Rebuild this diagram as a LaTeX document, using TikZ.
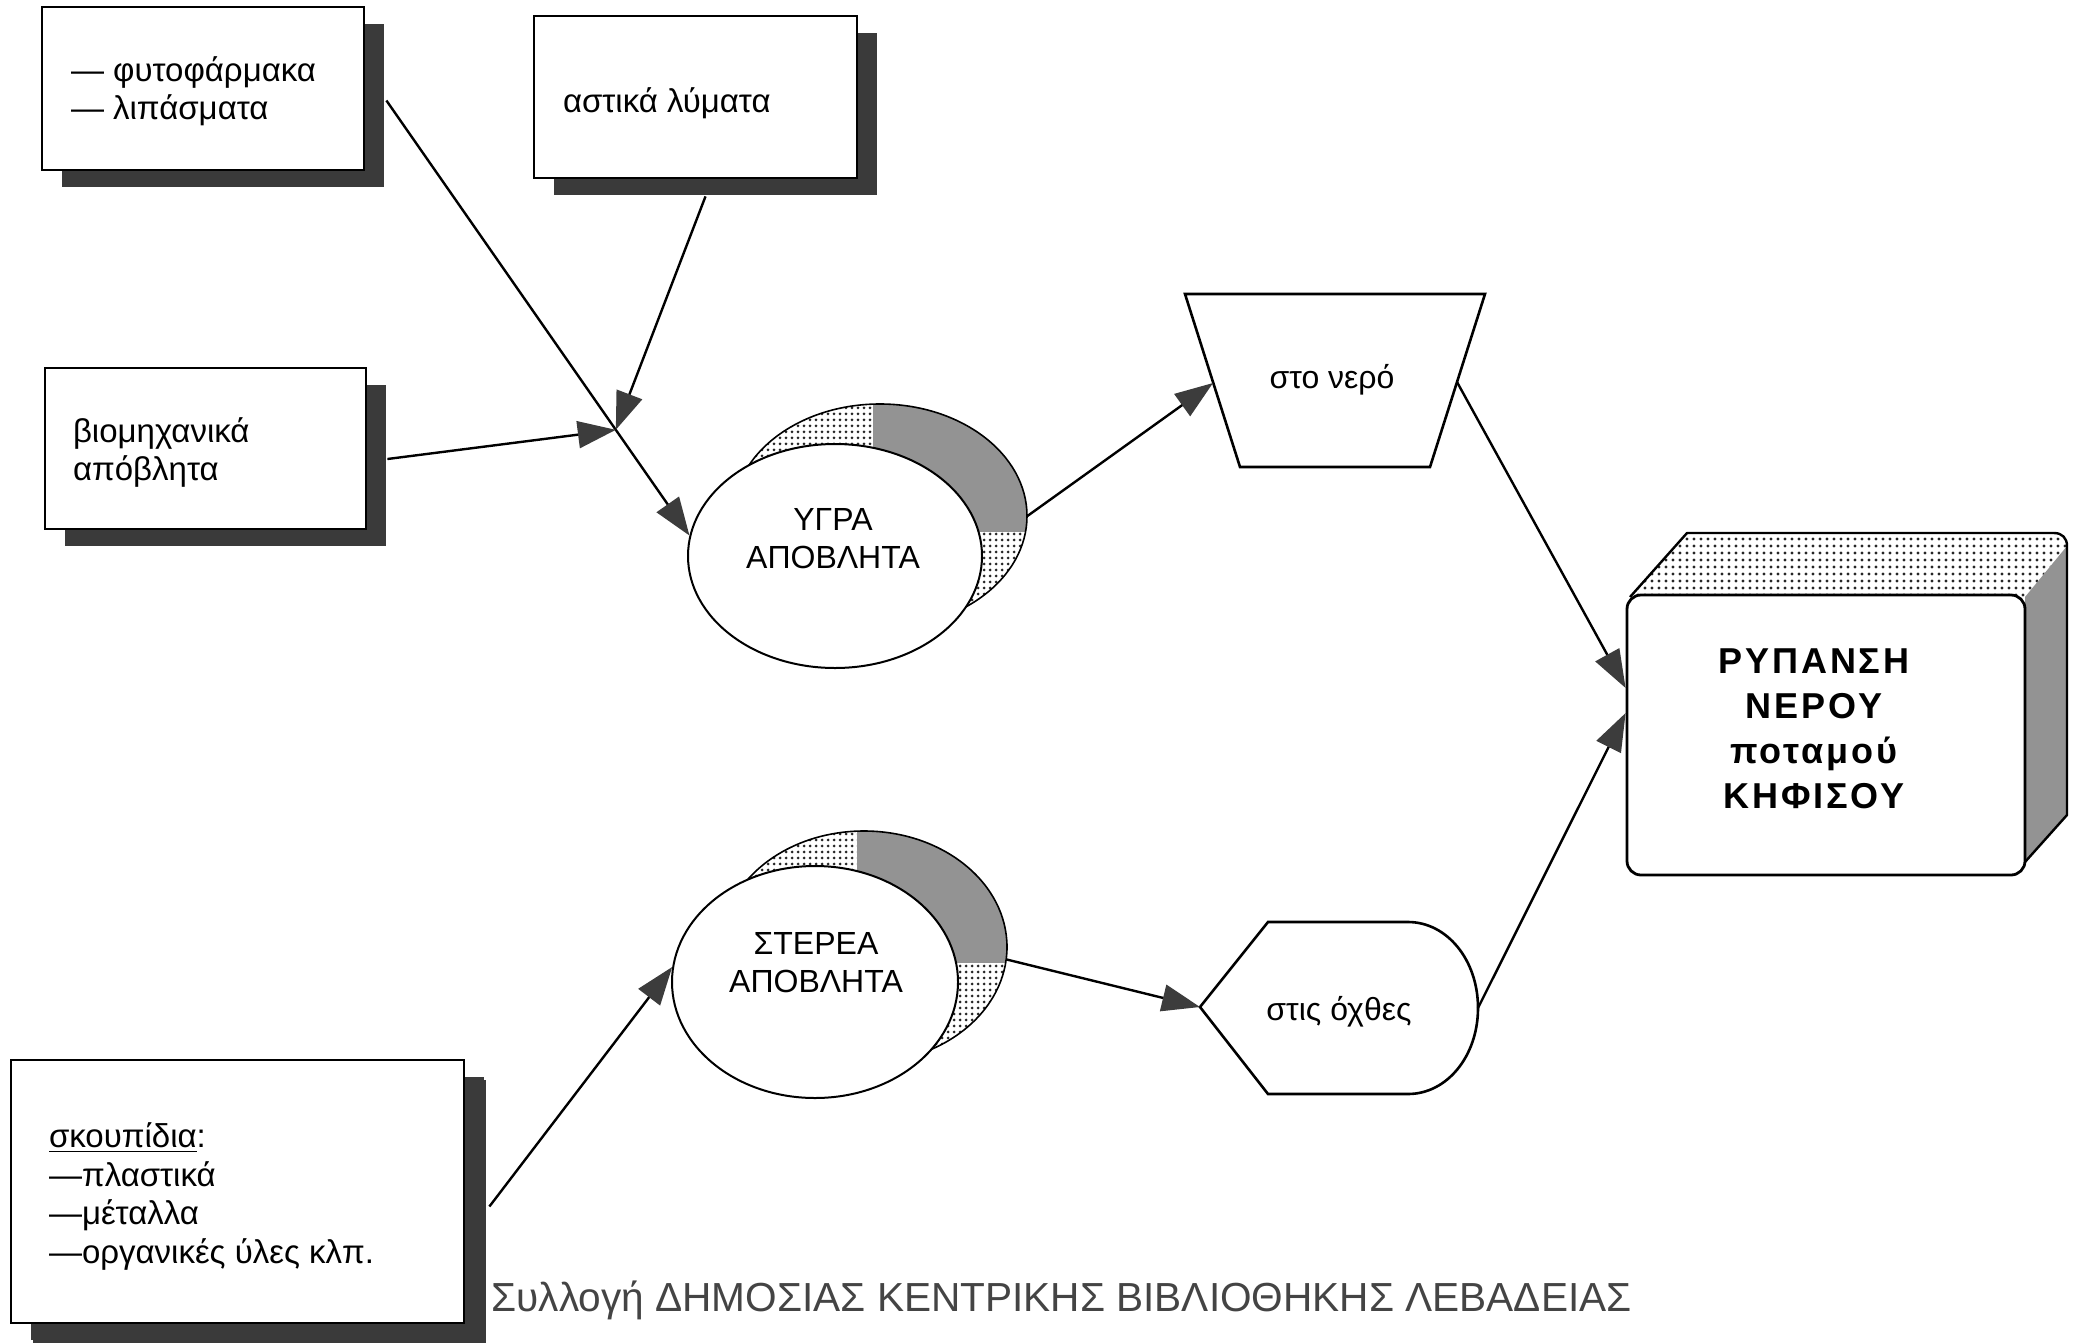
\documentclass[tikz,border=0pt]{standalone}
\usepackage{fontspec}
\setmainfont{Liberation Sans}
\newfontfamily\titlefont{Liberation Sans Bold}[LetterSpace=8]
\usetikzlibrary{arrows.meta,shadows,calc,shapes.geometric,patterns.meta}
\definecolor{shade}{HTML}{3A3A3A}
\definecolor{tipc}{HTML}{3C3C3C}
\definecolor{darkdot}{HTML}{939393}
\definecolor{footc}{HTML}{444444}
\begin{document}
\begin{tikzpicture}[x=0.5pt,y=-0.5pt,
  srcbox/.style={draw=black, line width=1.4pt, fill=white, inner sep=0pt,
    drop shadow={shadow xshift=10pt, shadow yshift=-8.5pt, fill=shade, opacity=1}},
  boxtext/.style={anchor=west, align=left, inner sep=0pt, font=\fontsize{16.5}{19.2}\selectfont},
  flow/.style={line width=1.2pt, -{Triangle[length=19pt,width=13.5pt,color=tipc]}},
  lbl/.style={font=\fontsize{16}{19}\selectfont, align=center, inner sep=0pt},
  frontell/.style={ellipse, draw=black, line width=1pt, fill=white, inner sep=0pt},
  backell/.style={ellipse, inner sep=0pt, fill=white},
  lightdots/.style={pattern={Dots[distance=3pt,radius=0.75pt]}, pattern color=black!85},
  shapeline/.style={draw=black, line width=1.3pt, fill=white, line join=miter}
]
\useasboundingbox (0,0) rectangle (2078,1344);

% source boxes
\node[srcbox, minimum width=161pt, minimum height=81.5pt] (b1) at (203,88.5) {};
\node[boxtext] (b1txt) at ($(b1.west)+(30,3)$) {— φυτοφάρμακα\\— λιπάσματα};
\node[srcbox, minimum width=161.5pt, minimum height=81pt] (b2) at (695.5,97) {};
\node[boxtext] (b2txt) at ($(b2.west)+(30,6)$) {αστικά λύματα};
\node[srcbox, minimum width=160.5pt, minimum height=80.5pt] (b3) at (205.5,448.5) {};
\node[boxtext] (b3txt) at ($(b3.west)+(29,4)$) {βιομηχανικά\\απόβλητα};
\node[srcbox, minimum width=226.5pt, minimum height=131.5pt,
  drop shadow={shadow xshift=11pt, shadow yshift=-10pt, fill=shade, opacity=1}] (b4) at (237.5,1191.5) {};
\node[boxtext] (b4txt) at ($(b4.west)+(39,5)$)
  {\underline{σκουπίδια}:\\—πλαστικά\\—μέταλλα\\—οργανικές ύλες κλπ.};

% YGRA ellipse
\node[backell, minimum width=147pt, minimum height=112pt] (ygraback) at (880,516) {};
\fill[lightdots] (ygraback.center) ellipse [x radius=147, y radius=112];
\begin{scope}
  \clip (ygraback.center) ellipse [x radius=147, y radius=112];
  \fill[darkdot] ($(ygraback.center)+(-7,-130)$) rectangle ($(ygraback.center)+(160,16)$);
\end{scope}
\draw[line width=0.8pt] (ygraback.center) ellipse [x radius=147, y radius=112];
\node[frontell, minimum width=147pt, minimum height=112pt] (ygra) at (835,556) {};
\node[lbl] (ygratxt) at (833,539) {ΥΓΡΑ\\ΑΠΟΒΛΗΤΑ};

% STEREA ellipse
\node[backell, minimum width=143pt, minimum height=116pt] (sterback) at (864,947) {};
\fill[lightdots] (sterback.center) ellipse [x radius=143, y radius=116];
\begin{scope}
  \clip (sterback.center) ellipse [x radius=143, y radius=116];
  \fill[darkdot] ($(sterback.center)+(-7,-130)$) rectangle ($(sterback.center)+(160,16)$);
\end{scope}
\draw[line width=0.8pt] (sterback.center) ellipse [x radius=143, y radius=116];
\node[frontell, minimum width=143pt, minimum height=116pt] (ster) at (815,982) {};
\node[lbl] (stertxt) at (816,963) {ΣΤΕΡΕΑ\\ΑΠΟΒΛΗΤΑ};

% trapezoid "sto nero"
\draw[shapeline] (1185,294) -- (1485,294) -- (1430,467) -- (1240,467) -- cycle;
\node[lbl] (nero) at (1332,380) {στο νερό};
\coordinate (neroin) at (1213,383);
\coordinate (neroout) at (1457,382);

% "stis ochthes" shape
\draw[shapeline] (1200,1007) -- (1268,922) -- (1408,922)
  .. controls (1447,922) and (1478,960) .. (1478,1008)
  .. controls (1478,1056) and (1447,1094) .. (1408,1094)
  -- (1268,1094) -- cycle;
\node[lbl] (ochthes) at (1339,1012) {στις όχθες};
\coordinate (ochin) at (1200,1007);
\coordinate (ochout) at (1478,1008);

% RYPANSI 3D box
\fill[white] (1630,597) -- (1687,533) -- (2054,533) -- (2067,546) -- (2025,597) -- cycle;
\fill[pattern={Dots[distance=3.5pt,radius=0.8pt]}, pattern color=black!85]
  (1630,597) -- (1687,533) -- (2054,533) -- (2067,546) -- (2025,597) -- cycle;
\fill[darkdot] (2025,597) -- (2067,546) -- (2067,815) -- (2025,862) -- cycle;
\draw[line width=1.2pt, line join=round] (1630,597) -- (1687,533) -- (2054,533)
  .. controls (2062,533) and (2067,538) .. (2067,546) -- (2067,815) -- (2025,862);
\node[draw=black, line width=1.4pt, fill=white, rounded corners=7pt,
  minimum width=199pt, minimum height=140pt, inner sep=0pt] (rypansi) at (1826,735) {};
\node[font=\titlefont\fontsize{18}{22.5}\selectfont, align=center, inner sep=0pt]
  (rypansitxt) at (1814,729) {ΡΥΠΑΝΣΗ\\ΝΕΡΟΥ\\ποταμού\\ΚΗΦΙΣΟΥ};

% connectors
\coordinate (p1s) at ($(b1.east)+(21,12)$);
\coordinate (J) at ($(p1s)!0.757!(ygra.172)$);
\draw[flow] (p1s) -- (ygra.172);
\draw[flow] ($(b2.south)+(10,17)$) -- (J);
\draw[flow] ($(b3.east)+(20,10.5)$) -- (J);
\draw[flow] (ygraback.east) -- (neroin);
\draw[flow] (neroout) -- ($(rypansi.west)+(0,-47)$);
\draw[flow] ($(b4.east)+(24,15)$) -- (ster.174);
\draw[flow] (sterback.-5) -- (ochin);
\draw[flow] (ochout) -- ($(rypansi.west)+(0,-22)$);

% footer
\node[anchor=west, inner sep=0pt, text=footc, font=\fontsize{20.3}{23}\selectfont] (footer) at (491,1300)
  {Συλλογή ΔΗΜΟΣΙΑΣ ΚΕΝΤΡΙΚΗΣ ΒΙΒΛΙΟΘΗΚΗΣ ΛΕΒΑΔΕΙΑΣ};
\end{tikzpicture}
\end{document}
